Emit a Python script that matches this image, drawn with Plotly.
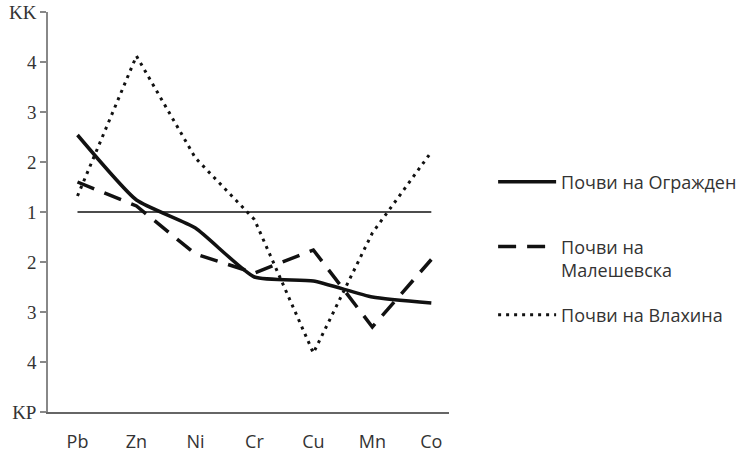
import plotly.graph_objects as go

# Elements (x categories)
elements = ["Pb", "Zn", "Ni", "Cr", "Cu", "Mn", "Co"]

# Values on the symmetric KK / KP scale (axis position):
#  0 -> coefficient 1, +n -> KK = 1+n, -n -> KP = 1+n
ograzhden = [1.54, 0.24, -0.32, -1.30, -1.38, -1.70, -1.82]
maleshevska = [0.60, 0.12, -0.84, -1.22, -0.76, -2.30, -0.95]
vlahina = [0.32, 3.12, 1.08, -0.15, -2.82, -0.42, 1.20]
baseline = [0, 0, 0, 0, 0, 0, 0]

series_names = ["Почви на Огражден", "Почви на<br>Малешевска", "Почви на Влахина"]

# Y tick labels
y_tickvals = [-4, -3, -2, -1, 0, 1, 2, 3, 4]
y_ticktext = ["KP", "4", "3", "2", "1", "2", "3", "4", "KK"]

fig = go.Figure()

fig.add_trace(go.Scatter(
    x=elements, y=baseline, mode="lines",
    line=dict(color="#111111", width=1.5),
    showlegend=False, hoverinfo="skip"))

fig.add_trace(go.Scatter(
    x=elements, y=ograzhden, mode="lines", name=series_names[0],
    line=dict(color="#111111", width=3.5, shape="spline", smoothing=0.5),
    legend="legend"))

fig.add_trace(go.Scatter(
    x=elements, y=maleshevska, mode="lines", name=series_names[1],
    line=dict(color="#111111", width=3.5, dash="18px,11px"),
    legend="legend2"))

fig.add_trace(go.Scatter(
    x=elements, y=vlahina, mode="lines", name=series_names[2],
    line=dict(color="#111111", width=3, dash="3px,5px"),
    legend="legend3"))

legend_common = dict(
    x=1.11, xanchor="left", yanchor="middle",
    font=dict(family="Open Sans", size=18, color="#333333"),
    itemwidth=58, bgcolor="rgba(0,0,0,0)", valign="top",
)

fig.update_layout(
    width=748, height=452,
    margin=dict(l=48, r=299, t=12, b=40, autoexpand=False),
    paper_bgcolor="white", plot_bgcolor="white",
    xaxis=dict(
        type="category", range=[-0.5, 6.3], automargin=False,
        showgrid=False, zeroline=False,
        showline=True, linecolor="#666666", linewidth=2,
        ticks="outside", ticklen=12, tickcolor="rgba(0,0,0,0)",
        tickfont=dict(family="Open Sans", size=18, color="#333333"),
    ),
    yaxis=dict(
        range=[-4, 4], automargin=False, showgrid=False, zeroline=False,
        showline=True, linecolor="#888888", linewidth=1.5,
        ticks="outside", ticklen=6, tickcolor="#888888", tickwidth=1.5,
        tickvals=y_tickvals, ticktext=y_ticktext,
        tickfont=dict(family="Liberation Serif", size=19, color="#333333"),
    ),
    legend=dict(y=0.575, **legend_common),
    legend2=dict(y=0.384, **legend_common),
    legend3=dict(y=0.2425, **legend_common),
)

fig.write_html(
    "out.html",
    config={"displayModeBar": False},
    post_script="document.body.style.margin='0';document.body.style.overflow='hidden';",
)
